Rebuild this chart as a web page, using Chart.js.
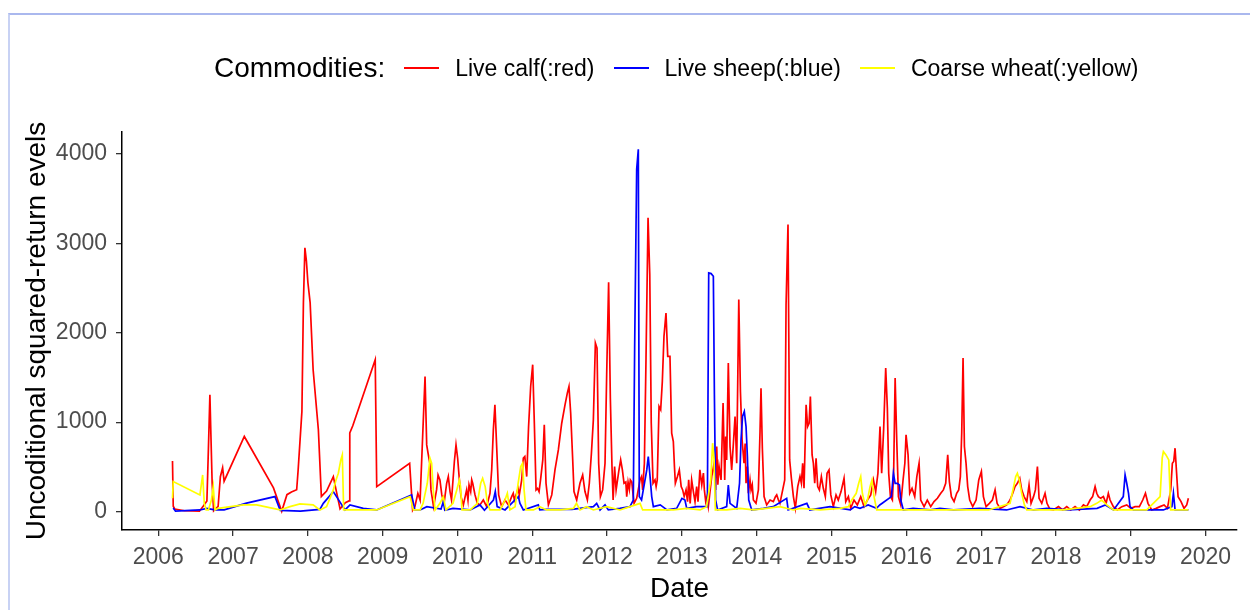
<!DOCTYPE html>
<html>
<head>
<meta charset="utf-8">
<script src="https://cdn.jsdelivr.net/npm/chart.js@4.4.1/dist/chart.umd.min.js"></script>
<style>
  html, body { margin: 0; padding: 0; background: #fff; }
  body { width: 1250px; height: 610px; position: relative; overflow: hidden; font-family: "Liberation Sans", Arial, sans-serif; }
  #frame { position: absolute; left: 8px; top: 13px; right: 0; bottom: 0; border-top: 2px solid #aab8ee; border-left: 2px solid #c8d2f4; }
  #chart { position: absolute; left: 0; top: 0; }
  #legend { position: absolute; left: 214px; top: 52px; height: 32px; display: flex; align-items: center; white-space: nowrap; }
  #legend .ttl { font-size: 28px; color: #000; }
  #legend .key { width: 35px; height: 2px; margin-left: 19px; }
  #legend .lbl { font-size: 23px; color: #000; margin-left: 16px; }
</style>
</head>
<body>
<div id="frame"></div>
<canvas id="chart" width="1250" height="610"></canvas>
<div id="legend"></div>
<script>
// ===== Dữ liệu (năm thập phân, giá trị) =====
const years = [2006, 2007, 2008, 2009, 2010, 2011, 2012, 2013, 2014, 2015, 2016, 2017, 2018, 2019, 2020];
const yTicks = [0, 1000, 2000, 3000, 4000];
const seriesNames = ["Live calf(:red)", "Live sheep(:blue)", "Coarse wheat(:yellow)"];
const seriesColors = ["#FF0000", "#0000FF", "#FFFF00"];

// Live calf
const calfPts = [
  [2006.19, 567], [2006.20, 60], [2006.22, 30], [2006.35, 10], [2006.55, 5], [2006.60, 60], [2006.65, 120],
  [2006.67, 700], [2006.69, 1306], [2006.70, 970], [2006.72, 320], [2006.74, 10], [2006.80, 60], [2006.83, 390],
  [2006.86, 490], [2006.88, 340], [2007.15, 840], [2007.54, 265], [2007.65, 5], [2007.72, 190], [2007.78, 220],
  [2007.85, 245], [2007.87, 470], [2007.92, 1120], [2007.94, 2335], [2007.96, 2948], [2007.98, 2800], [2008.00, 2560],
  [2008.03, 2335], [2008.07, 1586], [2008.14, 915], [2008.18, 170], [2008.25, 230], [2008.34, 392], [2008.38, 230],
  [2008.43, 30], [2008.50, 100], [2008.55, 120], [2008.56, 880], [2008.60, 960], [2008.90, 1698], [2008.92, 280],
  [2009.36, 541], [2009.40, 15], [2009.43, 56], [2009.47, 205], [2009.50, 130],
  [2009.566, 1511], [2009.588, 746], [2009.61, 634], [2009.63, 541], [2009.645, 243], [2009.68, 56], [2009.72, 243],
  [2009.74, 410], [2009.765, 354], [2009.79, 187], [2009.82, 93], [2009.855, 317], [2009.877, 392], [2009.90, 224],
  [2009.92, 130], [2009.958, 560], [2009.98, 746], [2010.002, 597], [2010.025, 354], [2010.047, 168], [2010.078, 75],
  [2010.122, 243], [2010.14, 130], [2010.154, 298], [2010.176, 224], [2010.19, 355], [2010.203, 317], [2010.234, 187],
  [2010.265, 93], [2010.30, 75], [2010.345, 130], [2010.39, 56], [2010.434, 205], [2010.457, 466], [2010.479, 914],
  [2010.50, 1194], [2010.528, 634], [2010.55, 187], [2010.59, 56], [2010.635, 130], [2010.68, 75], [2010.724, 168],
  [2010.745, 205], [2010.76, 130], [2010.79, 205], [2010.81, 260], [2010.826, 187], [2010.858, 354], [2010.88, 597],
  [2010.90, 616], [2010.925, 392], [2010.95, 951], [2010.978, 1399], [2011.005, 1642], [2011.027, 988], [2011.05, 243],
  [2011.07, 260], [2011.09, 224], [2011.11, 354], [2011.14, 578], [2011.16, 970], [2011.183, 317], [2011.215, 75],
  [2011.26, 187], [2011.303, 466], [2011.348, 690], [2011.393, 988], [2011.437, 1194], [2011.468, 1325], [2011.49, 1399],
  [2011.513, 1100], [2011.54, 578], [2011.557, 224], [2011.593, 130], [2011.637, 317], [2011.673, 410], [2011.704, 224],
  [2011.736, 130], [2011.762, 317], [2011.79, 653], [2011.816, 1026], [2011.843, 1884], [2011.865, 1828], [2011.887, 541],
  [2011.91, 168], [2011.94, 243], [2011.972, 541], [2011.994, 1530], [2012.02, 2563], [2012.043, 1269], [2012.065, 504],
  [2012.08, 130], [2012.10, 504], [2012.12, 243], [2012.155, 448], [2012.181, 578], [2012.204, 466], [2012.226, 317],
  [2012.25, 330], [2012.262, 168], [2012.28, 330], [2012.297, 250], [2012.31, 355], [2012.33, 330], [2012.35, 168],
  [2012.36, 93], [2012.395, 149], [2012.44, 355], [2012.46, 392], [2012.475, 243], [2012.498, 541], [2012.52, 1716],
  [2012.547, 3283], [2012.57, 2649], [2012.59, 988], [2012.614, 317], [2012.64, 355], [2012.655, 280], [2012.67, 354],
  [2012.694, 1175], [2012.716, 1138], [2012.738, 1455], [2012.76, 1959], [2012.787, 2220], [2012.81, 1735], [2012.84, 1735],
  [2012.863, 877], [2012.885, 783], [2012.90, 504], [2012.912, 317], [2012.94, 392], [2012.965, 467], [2012.99, 280],
  [2013.01, 243], [2013.03, 168], [2013.055, 243], [2013.075, 112], [2013.09, 355], [2013.11, 93], [2013.13, 354],
  [2013.153, 224], [2013.175, 112], [2013.197, 280], [2013.215, 112], [2013.24, 467], [2013.265, 300], [2013.287, 430],
  [2013.30, 243], [2013.318, 112], [2013.335, 168], [2013.353, 56], [2013.398, 392], [2013.43, 541], [2013.45, 243],
  [2013.465, 728], [2013.48, 300], [2013.496, 504], [2013.523, 354], [2013.55, 1213], [2013.572, 354], [2013.585, 840],
  [2013.598, 578], [2013.62, 1660], [2013.643, 728], [2013.665, 466], [2013.688, 765], [2013.71, 1063], [2013.732, 541],
  [2013.76, 2369], [2013.782, 1343], [2013.804, 802], [2013.83, 541], [2013.845, 760], [2013.857, 317], [2013.875, 504],
  [2013.888, 205], [2013.91, 355], [2013.924, 243], [2013.94, 300], [2013.955, 130], [2013.99, 93], [2014.022, 243],
  [2014.044, 895], [2014.057, 1380], [2014.075, 709], [2014.098, 168], [2014.133, 75], [2014.178, 130], [2014.222, 112],
  [2014.25, 168], [2014.267, 187], [2014.29, 130], [2014.31, 93], [2014.347, 243], [2014.374, 354], [2014.392, 2313],
  [2014.418, 3209], [2014.44, 578], [2014.463, 373], [2014.49, 168], [2014.516, 37], [2014.548, 280], [2014.578, 392],
  [2014.597, 317], [2014.614, 541], [2014.632, 261], [2014.66, 1194], [2014.68, 951], [2014.70, 988], [2014.717, 1287],
  [2014.74, 634], [2014.757, 541], [2014.775, 317], [2014.793, 597], [2014.815, 280], [2014.837, 243], [2014.864, 392],
  [2014.89, 261], [2014.917, 168], [2014.94, 429], [2014.966, 466], [2014.99, 187], [2015.024, 56], [2015.06, 187],
  [2015.09, 130], [2015.127, 224], [2015.167, 373], [2015.19, 112], [2015.225, 168], [2015.256, 37], [2015.30, 130],
  [2015.345, 75], [2015.39, 168], [2015.435, 56], [2015.48, 130], [2015.524, 187], [2015.56, 354], [2015.59, 224],
  [2015.62, 429], [2015.648, 951], [2015.67, 429], [2015.697, 933], [2015.724, 1604], [2015.746, 1157], [2015.764, 429],
  [2015.787, 168], [2015.813, 130], [2015.83, 429], [2015.85, 1492], [2015.872, 783], [2015.894, 168], [2015.925, 75],
  [2015.956, 354], [2015.98, 541], [2015.996, 858], [2016.023, 634], [2016.045, 205], [2016.076, 261], [2016.112, 168],
  [2016.14, 392], [2016.17, 541], [2016.192, 130], [2016.237, 56], [2016.28, 130], [2016.326, 56], [2016.37, 112],
  [2016.415, 149], [2016.46, 205], [2016.495, 243], [2016.526, 317], [2016.553, 634], [2016.575, 336], [2016.602, 168],
  [2016.638, 112], [2016.673, 205], [2016.70, 243], [2016.722, 392], [2016.74, 877], [2016.758, 1716], [2016.776, 728],
  [2016.798, 541], [2016.82, 280], [2016.847, 130], [2016.887, 56], [2016.932, 130], [2016.968, 354], [2017.003, 448],
  [2017.03, 168], [2017.066, 56], [2017.11, 93], [2017.15, 130], [2017.186, 243], [2017.213, 93], [2017.253, 37],
  [2017.297, 56], [2017.342, 75], [2017.386, 130], [2017.422, 205], [2017.453, 280], [2017.484, 317], [2017.516, 373],
  [2017.542, 243], [2017.574, 168], [2017.61, 112], [2017.64, 298], [2017.667, 93], [2017.70, 168], [2017.725, 243],
  [2017.752, 504], [2017.774, 149], [2017.81, 93], [2017.854, 205], [2017.88, 93], [2017.92, 26], [2017.966, 19],
  [2018.033, 56], [2018.09, 19], [2018.144, 56], [2018.197, 19], [2018.255, 56], [2018.313, 19], [2018.367, 75],
  [2018.411, 56], [2018.456, 130], [2018.49, 168], [2018.523, 280], [2018.545, 205], [2018.567, 168], [2018.598, 149],
  [2018.634, 168], [2018.67, 93], [2018.70, 205], [2018.723, 130], [2018.767, 56], [2018.82, 19], [2018.88, 56],
  [2018.946, 75], [2019.00, 37], [2019.058, 56], [2019.115, 56], [2019.16, 130], [2019.196, 205], [2019.23, 93],
  [2019.28, 19], [2019.34, 37], [2019.39, 56], [2019.445, 75], [2019.49, 37], [2019.534, 243], [2019.556, 541],
  [2019.574, 560], [2019.592, 709], [2019.61, 466], [2019.632, 168], [2019.672, 112], [2019.712, 37], [2019.748, 75],
  [2019.77, 149]
];

// Live sheep
const sheepPts = [
  [2006.20, 40], [2006.23, 5], [2006.557, 19], [2006.647, 37], [2006.758, 19], [2006.88, 20], [2007.18, 95],
  [2007.56, 168], [2007.63, 15], [2007.90, 5], [2008.16, 26], [2008.206, 93], [2008.34, 224], [2008.496, 19],
  [2008.563, 75], [2008.74, 37], [2008.92, 19], [2009.387, 187], [2009.43, 19], [2009.50, 19], [2009.59, 56],
  [2009.78, 30], [2009.81, 112], [2009.83, 15], [2009.94, 37], [2010.17, 19], [2010.30, 75], [2010.36, 15],
  [2010.48, 130], [2010.505, 224], [2010.53, 56], [2010.635, 19], [2010.813, 168], [2010.835, 93], [2010.88, 19],
  [2011.08, 75], [2011.10, 19], [2011.19, 26], [2011.53, 26], [2011.816, 56], [2011.86, 93], [2011.905, 19],
  [2011.972, 75], [2012.016, 19], [2012.17, 37], [2012.305, 56], [2012.35, 130], [2012.368, 1828], [2012.395, 3824],
  [2012.417, 4048], [2012.43, 168], [2012.46, 130], [2012.53, 466], [2012.55, 616], [2012.574, 392], [2012.596, 168],
  [2012.618, 56], [2012.71, 75], [2012.80, 19], [2012.93, 37], [2013.00, 149], [2013.04, 130], [2013.064, 37],
  [2013.197, 56], [2013.34, 56], [2013.358, 2668], [2013.39, 2660], [2013.42, 2630], [2013.434, 1306], [2013.45, 130],
  [2013.477, 19], [2013.598, 56], [2013.62, 298], [2013.643, 93], [2013.732, 37], [2013.77, 317], [2013.79, 802],
  [2013.81, 1063], [2013.834, 1119], [2013.857, 951], [2013.875, 616], [2013.893, 130], [2013.933, 19], [2014.09, 37],
  [2014.22, 56], [2014.40, 149], [2014.42, 19], [2014.67, 93], [2014.71, 19], [2014.98, 56], [2015.25, 19],
  [2015.31, 56], [2015.38, 37], [2015.49, 75], [2015.60, 37], [2015.645, 75], [2015.80, 168], [2015.827, 429],
  [2015.85, 317], [2015.88, 317], [2015.907, 298], [2015.925, 130], [2015.96, 19], [2016.09, 37], [2016.32, 19],
  [2016.45, 37], [2016.63, 19], [2016.98, 37], [2017.34, 19], [2017.52, 56], [2017.70, 19], [2017.88, 37],
  [2018.16, 19], [2018.55, 37], [2018.66, 75], [2018.77, 19], [2018.90, 168], [2018.924, 410], [2018.946, 317],
  [2018.97, 205], [2018.99, 56], [2019.035, 19], [2019.21, 19], [2019.435, 19], [2019.55, 56], [2019.57, 205],
  [2019.592, 19], [2019.77, 19]
];

// Coarse wheat
const wheatPts = [
  [2006.19, 150], [2006.20, 336], [2006.557, 187], [2006.593, 410], [2006.615, 93], [2006.64, 19], [2006.67, 19],
  [2006.71, 130], [2006.735, 280], [2006.758, 19], [2006.80, 37], [2007.137, 75], [2007.315, 75], [2007.627, 19],
  [2007.76, 56], [2007.894, 86], [2008.07, 75], [2008.16, 19], [2008.25, 56], [2008.34, 243], [2008.376, 354],
  [2008.407, 429], [2008.44, 578], [2008.46, 634], [2008.478, 19], [2008.52, 19], [2008.74, 19], [2008.92, 19],
  [2009.365, 168], [2009.41, 19], [2009.50, 19], [2009.54, 93], [2009.596, 317], [2009.632, 597], [2009.654, 541],
  [2009.676, 243], [2009.70, 19], [2009.765, 93], [2009.81, 168], [2009.846, 19], [2009.94, 93], [2009.99, 243],
  [2010.025, 354], [2010.04, 280], [2010.06, 19], [2010.17, 19], [2010.265, 93], [2010.31, 317], [2010.336, 373],
  [2010.37, 280], [2010.40, 93], [2010.434, 19], [2010.568, 19], [2010.635, 130], [2010.666, 205], [2010.70, 19],
  [2010.77, 56], [2010.81, 317], [2010.845, 504], [2010.87, 541], [2010.89, 243], [2010.915, 19], [2011.015, 19],
  [2011.10, 56], [2011.19, 19], [2011.37, 19], [2011.55, 37], [2011.59, 93], [2011.637, 19], [2011.727, 56],
  [2011.816, 19], [2011.994, 56], [2012.172, 19], [2012.306, 56], [2012.44, 93], [2012.475, 19], [2012.62, 19],
  [2012.885, 19], [2013.064, 37], [2013.242, 19], [2013.33, 56], [2013.385, 354], [2013.41, 765], [2013.43, 578],
  [2013.447, 19], [2013.60, 19], [2013.777, 37], [2013.955, 19], [2014.133, 37], [2014.31, 56], [2014.49, 19],
  [2014.58, 37], [2014.846, 19], [2015.114, 37], [2015.225, 56], [2015.27, 130], [2015.33, 205], [2015.363, 317],
  [2015.39, 392], [2015.412, 205], [2015.448, 75], [2015.48, 130], [2015.515, 280], [2015.54, 354], [2015.568, 168],
  [2015.604, 19], [2015.74, 19], [2015.915, 19], [2016.14, 19], [2016.45, 19], [2016.80, 19], [2017.10, 19],
  [2017.386, 93], [2017.43, 261], [2017.462, 392], [2017.484, 429], [2017.51, 354], [2017.542, 205], [2017.578, 75],
  [2017.61, 19], [2017.79, 19], [2018.10, 19], [2018.456, 56], [2018.545, 93], [2018.61, 130], [2018.68, 75],
  [2018.767, 19], [2019.213, 19], [2019.392, 168], [2019.42, 597], [2019.436, 672], [2019.47, 634], [2019.508, 578],
  [2019.534, 19], [2019.77, 19]
];

const allPts = [calfPts, sheepPts, wheatPts];

// ===== Chú thích (HTML) =====
const legend = document.getElementById("legend");
legend.innerHTML = '<span class="ttl">Commodities:</span>' + seriesNames.map((n, i) =>
  '<span class="key" style="background:' + seriesColors[i] + '"></span><span class="lbl">' + n + '</span>').join("");

// ===== Vẽ biểu đồ =====
const font = "'Liberation Sans', Arial, sans-serif";
const drawOrder = [3, 2, 1]; // vàng trên cùng, rồi xanh, rồi đỏ

new Chart(document.getElementById("chart"), {
  type: "line",
  data: {
    datasets: allPts.map((pts, i) => ({
      label: seriesNames[i],
      data: pts.map(p => ({ x: p[0], y: p[1] })),
      borderColor: seriesColors[i],
      backgroundColor: seriesColors[i],
      borderWidth: 1.7,
      pointRadius: 0,
      tension: 0,
      fill: false,
      order: drawOrder[i]
    }))
  },
  options: {
    responsive: false,
    animation: false,
    devicePixelRatio: 1,
    layout: { padding: { top: 132, right: 13, left: 0, bottom: 0 } },
    plugins: { legend: { display: false }, tooltip: { enabled: false } },
    scales: {
      x: {
        type: "linear",
        min: 2005.515,
        max: 2020.42,
        afterBuildTicks: axis => { axis.ticks = years.map(v => ({ value: v })); },
        afterFit: scale => { scale.height = 80; },
        grid: { drawOnChartArea: false, drawTicks: true, tickLength: 6, color: "#333", lineWidth: 1.3 },
        border: { display: true, color: "#000", width: 1.5 },
        ticks: { color: "#4d4d4d", font: { family: font, size: 23 }, padding: 8, maxRotation: 0, autoSkip: false,
                 callback: v => String(v) },
        title: { display: true, text: "Date", color: "#000", font: { family: font, size: 28 }, padding: { top: 0, bottom: 4 } }
      },
      y: {
        type: "linear",
        min: -205,
        max: 4242,
        afterBuildTicks: axis => { axis.ticks = yTicks.map(v => ({ value: v })); },
        afterFit: scale => { scale.width = 122; },
        grid: { drawOnChartArea: false, drawTicks: true, tickLength: 6, color: "#333", lineWidth: 1.3 },
        border: { display: true, color: "#000", width: 1.5 },
        ticks: { color: "#4d4d4d", font: { family: font, size: 23 }, padding: 9, callback: v => String(v) },
        title: { display: true, text: "Uncoditional squared-return evels", color: "#000", font: { family: font, size: 28 }, padding: { top: 20, bottom: 0 } }
      }
    }
  }
});
</script>
</body>
</html>
